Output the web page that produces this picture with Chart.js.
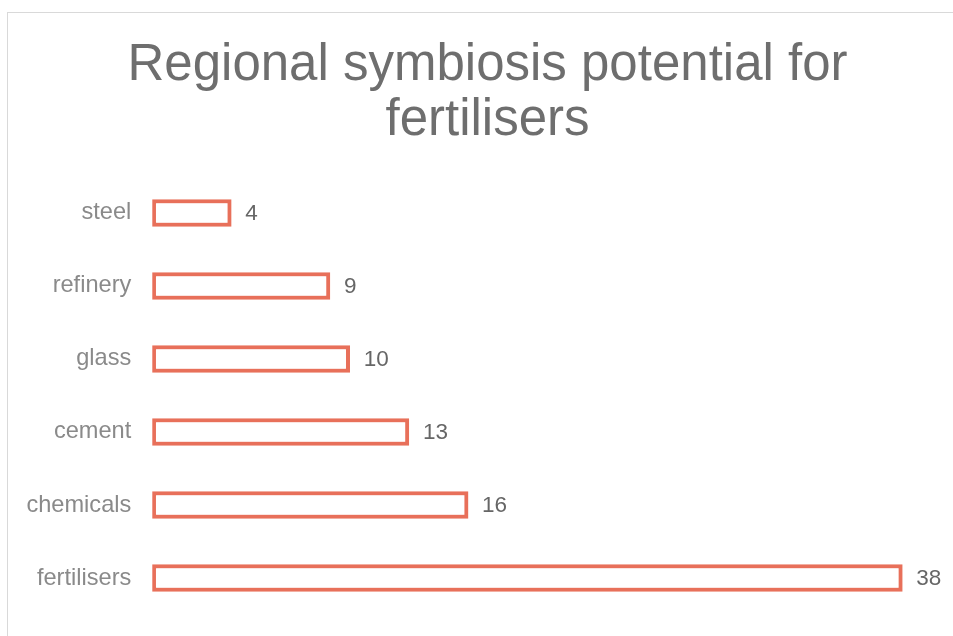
<!DOCTYPE html>
<html>
<head>
<meta charset="utf-8">
<script src="https://cdn.jsdelivr.net/npm/chart.js@4/dist/chart.umd.min.js"></script>
<style>
  html, body { margin: 0; padding: 0; background: #ffffff; overflow: hidden; width: 953px; height: 636px; }
  #frame { position: absolute; left: 7px; top: 12px; width: 2000px; height: 2000px; border: 1px solid #d9d9d9; }
  #wrap { position: absolute; left: 0; top: 0; width: 953px; height: 636px; }
</style>
</head>
<body>
<div id="frame"></div>
<div id="wrap"><canvas id="c" width="953" height="636"></canvas></div>
<script>
const titleLines = ["Regional symbiosis potential for", "fertilisers"];
const categories = ["steel", "refinery", "glass", "cement", "chemicals", "fertilisers"];
const values = [4, 9, 10, 13, 16, 38];
const axisMin = 0;
const axisMax = 40;

const valueLabels = {
  id: 'valueLabels',
  afterDatasetsDraw(chart) {
    const ctx = chart.ctx;
    const meta = chart.getDatasetMeta(0);
    ctx.save();
    ctx.font = '22.5px "Liberation Sans", Arial, sans-serif';
    ctx.fillStyle = '#666666';
    ctx.textAlign = 'left';
    ctx.textBaseline = 'middle';
    meta.data.forEach((bar, i) => {
      ctx.fillText(String(chart.data.datasets[0].data[i]), bar.x + 14, bar.y + 1);
    });
    ctx.restore();
  }
};

new Chart(document.getElementById('c'), {
  type: 'bar',
  data: {
    labels: categories,
    datasets: [{
      data: values,
      backgroundColor: '#ffffff',
      borderColor: '#E8705A',
      borderWidth: 4,
      borderSkipped: false,
      barThickness: 27
    }]
  },
  options: {
    indexAxis: 'y',
    responsive: false,
    animation: false,
    devicePixelRatio: 1,
    layout: { padding: { left: 33.2, right: 11.2, top: 0, bottom: 21.5 } },
    plugins: {
      legend: { display: false },
      tooltip: { enabled: false },
      title: {
        display: true,
        text: titleLines,
        color: '#6e6e6e',
        font: { family: '"Liberation Sans", Arial, sans-serif', size: 51, weight: 'normal', lineHeight: 1.08 },
        padding: { top: 38, bottom: 28.3 }
      }
    },
    scales: {
      x: {
        min: axisMin,
        max: axisMax,
        display: false
      },
      y: {
        grid: { display: false, drawTicks: true, tickLength: 21 },
        border: { display: false },
        ticks: {
          color: '#8a8a8a',
          padding: 0,
          font: { family: '"Liberation Sans", Arial, sans-serif', size: 23.6 }
        },
        afterFit(scale) { scale.width = 119.1; },
        afterUpdate(scale) { scale._computeLabelArea = () => undefined; }
      }
    }
  },
  plugins: [valueLabels]
});
</script>
</body>
</html>
